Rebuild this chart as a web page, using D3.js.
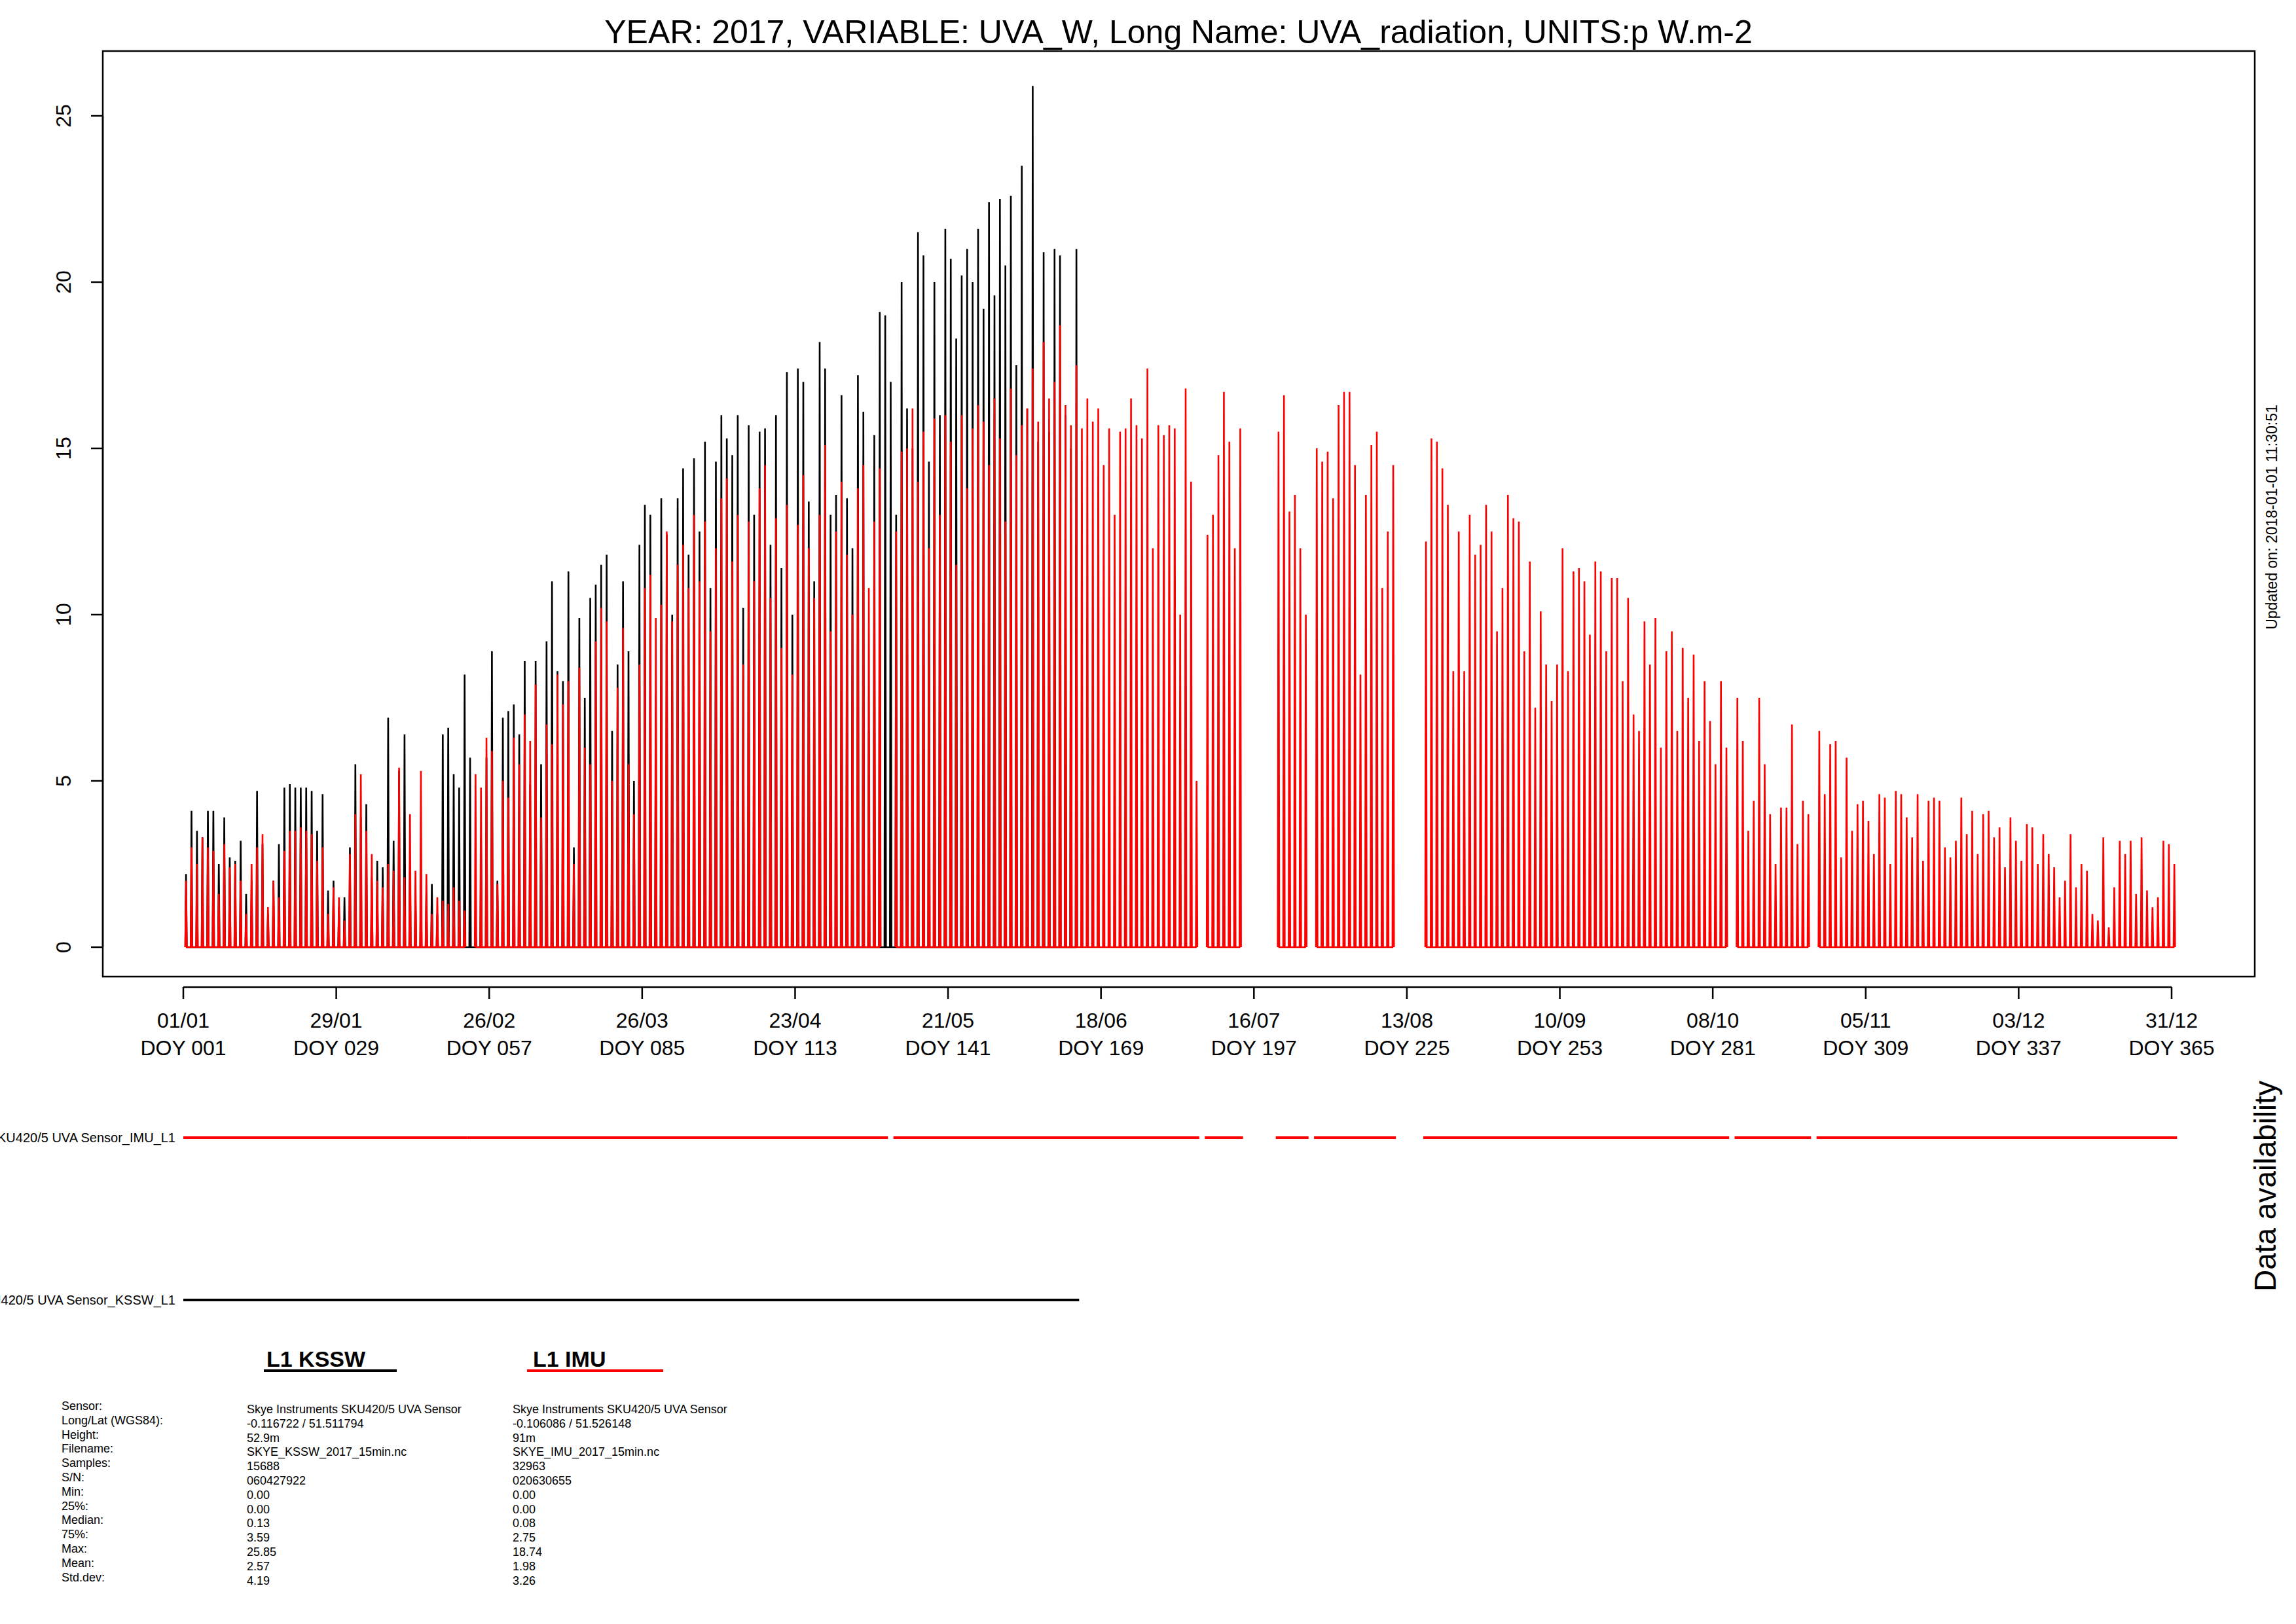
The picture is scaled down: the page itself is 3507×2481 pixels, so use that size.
<!DOCTYPE html>
<html><head><meta charset="utf-8">
<script src="https://cdn.jsdelivr.net/npm/d3@7"></script>
<style>body{margin:0;background:#fff}text{font-family:"Liberation Sans",Arial,sans-serif}</style>
</head><body>
<script>
// daily peak UVA (W m-2), IMU (red) and KSSW (black); null = no data
const redJan = [2.0,3.0,2.5,3.3,3.0,2.9,1.6,3.1,2.4,2.5,2.0,1.0,2.5,3.0,3.4,1.2,2.0,1.5,2.9,3.5,3.5,3.6,3.5,3.4,2.6,3.0,1.0,1.8,1.5,0.8,2.8];
const redFeb = [4.0,5.2,3.5,2.8,2.0,1.8,2.5,2.3,5.4,2.1,4.0,2.3,5.3,2.2,1.0,1.5,1.4,1.3,1.8,1.4,1.1,null,5.2,4.8,6.3,5.9,1.9,5.0];
const redMar = [4.5,6.3,5.5,7.0,6.2,7.9,3.9,6.7,6.1,8.2,7.3,8.0,2.5,8.4,6.0,5.5,9.2,10.2,9.8,5.0,7.8,9.6,5.5,4.0,8.5,10.8,11.2,9.9,10.3,12.5,9.8];
const redApr = [11.5,12.1,10.8,13.0,11.0,12.8,9.5,12.0,13.5,14.1,11.6,13.0,8.5,12.8,11.0,13.8,14.5,10.5,12.9,9.0,13.3,8.2,12.7,14.2,12.0,10.5,13.0,15.1,9.5,12.5];
const redMay = [14.0,11.8,10.0,13.8,14.5,10.8,12.8,14.4,null,null,12.5,14.9,15.0,16.2,14.0,15.5,12.0,15.9,13.0,16.0,15.2,11.5,16.0,13.8,15.6,16.3,15.8,14.5,16.5,15.3,12.8];
const redJun = [16.8,14.8,15.7,16.2,17.4,15.8,18.2,16.5,17.0,18.7,16.3,15.7,17.5,15.6,16.5,15.8,16.2,14.5,15.6,13.0,15.5,15.6,16.5,15.7,15.3,17.4,12.0,15.7,15.4,15.7];
const redJul = [15.6,10.0,16.8,14.0,5.0,null,12.4,13.0,14.8,16.7,15.2,12.0,15.6,null,null,null,null,null,null,15.5,16.6,13.1,13.6,12.0,10.0,null,15.0,14.6,14.9,13.5,16.3];
const redAug = [16.7,16.7,14.5,8.2,13.6,15.1,15.5,10.8,12.5,14.5,null,null,null,null,null,12.2,15.3,15.2,14.4,13.3,8.3,12.5,8.3,13.0,11.8,12.1,13.3,12.5,9.5,10.8,13.6];
const redSep = [12.9,12.8,8.9,11.6,7.2,10.1,8.5,7.4,8.5,12.0,8.3,11.3,11.4,11.0,9.4,11.6,11.3,8.9,11.1,11.1,8.0,10.5,7.0,6.5,9.8,8.5,9.9,6.0,8.9,9.5];
const redOct = [6.5,9.0,7.5,8.8,6.2,8.0,6.8,5.5,8.0,6.0,null,7.5,6.2,3.5,4.4,7.5,5.5,4.0,2.5,4.2,4.2,6.7,3.1,4.4,4.0,null,6.5,4.6,6.1,6.2,2.7];
const redNov = [5.7,3.5,4.3,4.4,3.8,2.8,4.6,4.5,2.5,4.7,4.6,3.9,3.3,4.6,2.6,4.4,4.5,4.4,3.0,2.7,3.2,4.5,3.4,4.1,2.8,4.0,4.1,3.3,3.6,2.4];
const redDec = [3.9,3.2,2.6,3.7,3.6,2.5,3.4,2.8,2.4,1.5,2.0,3.4,1.8,2.5,2.3,1.0,0.8,3.3,0.6,1.8,3.2,2.8,3.2,1.6,3.3,1.7,1.2,1.5,3.2,3.1,2.5];

const blackJan = [2.2,4.1,3.5,3.3,4.1,4.1,2.5,3.9,2.7,2.6,3.2,1.6,2.0,4.7,3.1,1.0,2.0,3.1,4.8,4.9,4.8,4.8,4.8,4.7,3.5,4.6,1.7,2.0,1.2,1.5,3.0];
const blackFeb = [5.5,3.9,4.3,2.1,2.6,2.4,6.9,3.2,5.3,6.4,2.5,1.5,1.8,1.6,1.9,1.0,6.4,6.6,5.2,4.8,8.2,5.7,0.5,3.3,5.7,8.9,2.0,6.9];
const blackMar = [7.1,7.3,6.4,8.6,4.9,8.6,5.5,9.2,11.0,8.3,8.0,11.3,3.0,9.9,7.5,10.5,10.9,11.5,11.8,6.5,8.5,11.0,8.9,5.0,12.1,13.3,13.0,7.6,13.5,12.4,10.0];
const blackApr = [13.5,14.4,11.8,14.7,12.5,15.2,10.8,14.6,16.0,15.3,14.8,16.0,10.2,15.7,13.0,15.5,15.6,12.1,16.0,11.4,17.3,10.0,17.4,17.0,13.4,11.0,18.2,17.4,13.0,13.6];
const blackMay = [16.6,13.5,12.0,17.2,16.1,6.5,15.4,19.1,19.0,17.0,13.0,20.0,16.2,15.0,21.5,20.8,14.6,20.0,16.0,21.6,20.7,18.3,20.2,21.0,20.0,21.6,19.2,22.4,19.6,22.5,20.5];
const blackJun = [22.6,17.5,23.5,16.2,25.9,15.2,20.9,15.5,21.0,20.8,16.0,15.0,21.0];

// data availability segments [first DOY, last DOY]
const availIMU = [[1,52],[53,129],[131,186],[188,194],[201,206],[208,222],[228,283],[285,298],[300,365]];
const availKSSW = [[1,164]];

const tickDOY = [1,29,57,85,113,141,169,197,225,253,281,309,337,365];
const yTicks = [0,5,10,15,20,25];

const statLabels = ["Sensor:","Long/Lat (WGS84):","Height:","Filename:","Samples:","S/N:","Min:","25%:","Median:","75%:","Max:","Mean:","Std.dev:"];
const statKSSW = ["Skye Instruments SKU420/5 UVA Sensor","-0.116722 / 51.511794","52.9m","SKYE_KSSW_2017_15min.nc","15688","060427922","0.00","0.00","0.13","3.59","25.85","2.57","4.19"];
const statIMU = ["Skye Instruments SKU420/5 UVA Sensor","-0.106086 / 51.526148","91m","SKYE_IMU_2017_15min.nc","32963","020630655","0.00","0.00","0.08","2.75","18.74","1.98","3.26"];

const red = [].concat(redJan,redFeb,redMar,redApr,redMay,redJun,redJul,redAug,redSep,redOct,redNov,redDec);
const black = [].concat(blackJan,blackFeb,blackMar,blackApr,blackMay,blackJun);

const W = 3507, H = 2481;
const svg = d3.select("body").append("svg").attr("width", W).attr("height", H);

const box = {l: 157, r: 3444, t: 78, b: 1492};
const x = d3.scaleLinear().domain([1, 365]).range([280, 3317]);
const y = d3.scaleLinear().domain([0, 25]).range([1447, 177]);

svg.append("text").attr("x", 1800).attr("y", 66).attr("text-anchor", "middle")
  .attr("font-size", 50).text("YEAR: 2017, VARIABLE: UVA_W, Long Name: UVA_radiation, UNITS:p W.m-2");

// turn daily peaks into a spike per day
function spikes(arr) {
  const pts = [];
  arr.forEach((v, i) => {
    const d = i + 1;
    if (v == null) { pts.push(null); return; }
    pts.push([d + 0.36, 0], [d + 0.5, v], [d + 0.64, 0]);
  });
  return pts;
}
const line = d3.line().defined(p => p != null).x(p => x(p[0])).y(p => y(p[1]));

svg.append("path").attr("d", line(spikes(black))).attr("fill", "none")
  .attr("stroke", "#000").attr("stroke-width", 2.6);
svg.append("path").attr("d", line(spikes(red))).attr("fill", "none")
  .attr("stroke", "#ff0000").attr("stroke-width", 2.6);

svg.append("rect").attr("x", box.l).attr("y", box.t).attr("width", box.r - box.l).attr("height", box.b - box.t)
  .attr("fill", "none").attr("stroke", "#000").attr("stroke-width", 2.5);

// y axis
const ya = svg.append("g").attr("stroke", "#000").attr("stroke-width", 2.5);
ya.append("line").attr("x1", box.l).attr("x2", box.l).attr("y1", y(0)).attr("y2", y(25));
yTicks.forEach(t => {
  ya.append("line").attr("x1", box.l - 18).attr("x2", box.l).attr("y1", y(t)).attr("y2", y(t));
  svg.append("text").attr("transform", `translate(108,${y(t)}) rotate(-90)`)
    .attr("text-anchor", "middle").attr("font-size", 32).text(t);
});

// x axis
const fmt = d3.timeFormat("%d/%m");
const xa = svg.append("g").attr("stroke", "#000").attr("stroke-width", 2.5);
xa.append("line").attr("x1", x(1)).attr("x2", x(365)).attr("y1", 1508).attr("y2", 1508);
tickDOY.forEach(d => {
  xa.append("line").attr("x1", x(d)).attr("x2", x(d)).attr("y1", 1508).attr("y2", 1526);
  const date = new Date(2017, 0, d);
  svg.append("text").attr("x", x(d)).attr("y", 1570).attr("text-anchor", "middle").attr("font-size", 32).text(fmt(date));
  svg.append("text").attr("x", x(d)).attr("y", 1612).attr("text-anchor", "middle").attr("font-size", 32)
    .text("DOY " + String(d).padStart(3, "0"));
});

svg.append("text").attr("transform", "translate(3478,790) rotate(-90)").attr("text-anchor", "middle")
  .attr("font-size", 23).text("Updated on: 2018-01-01 11:30:51");

// availability
function avail(segs, yy, color, label) {
  segs.forEach(s => svg.append("line").attr("x1", x(s[0])).attr("x2", x(s[1] + 1))
    .attr("y1", yy).attr("y2", yy).attr("stroke", color).attr("stroke-width", 4));
  svg.append("text").attr("x", 268).attr("y", yy + 7).attr("text-anchor", "end").attr("font-size", 20).text(label);
}
avail(availIMU, 1738, "#ff0000", "Skye Instruments SKU420/5 UVA Sensor_IMU_L1");
avail(availKSSW, 1986, "#000", "Skye Instruments SKU420/5 UVA Sensor_KSSW_L1");
svg.append("text").attr("transform", "translate(3476,1812) rotate(-90)").attr("text-anchor", "middle")
  .attr("font-size", 46).text("Data availability");

// legend headers
[["L1 KSSW", 407, 403, 606, "#000"], ["L1 IMU", 814, 805, 1013, "#ff0000"]].forEach(h => {
  svg.append("text").attr("x", h[1]).attr("y", 2088).attr("font-size", 34).attr("font-weight", "bold")
    .style("font-family", "'Liberation Sans Narrow','Liberation Sans',sans-serif").text(h[0]);
  svg.append("line").attr("x1", h[2]).attr("x2", h[3]).attr("y1", 2094).attr("y2", 2094)
    .attr("stroke", h[4]).attr("stroke-width", 4);
});

// stats table
const tf = "'Liberation Sans Narrow','Liberation Sans',sans-serif";
statLabels.forEach((s, i) => {
  const yy = 2154 + i * 21.8;
  svg.append("text").attr("x", 94).attr("y", yy).attr("font-size", 18).style("font-family", tf).text(s);
  svg.append("text").attr("x", 377).attr("y", yy + 5).attr("font-size", 18).style("font-family", tf).text(statKSSW[i]);
  svg.append("text").attr("x", 783).attr("y", yy + 5).attr("font-size", 18).style("font-family", tf).text(statIMU[i]);
});
</script>
</body></html>
